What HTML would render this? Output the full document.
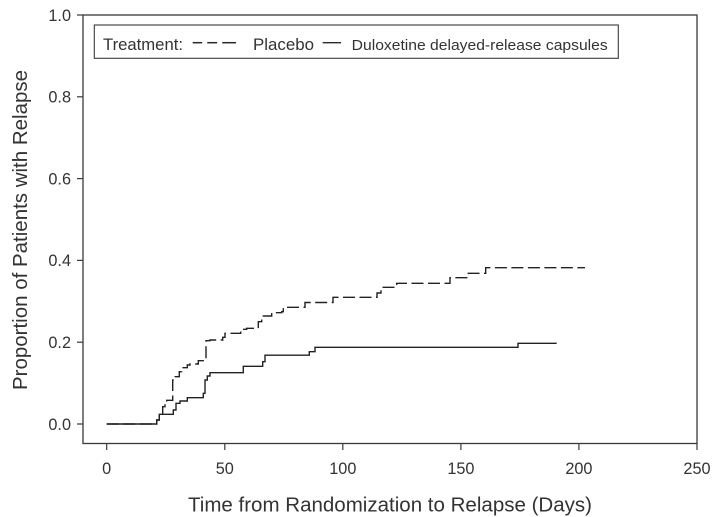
<!DOCTYPE html>
<html>
<head>
<meta charset="utf-8">
<style>
  html, body { margin: 0; padding: 0; background: #ffffff; }
  svg { display: block; }
  text { font-family: "Liberation Sans", Arial, sans-serif; fill: #333333; }
</style>
</head>
<body>
<svg width="715" height="517" viewBox="0 0 715 517" xmlns="http://www.w3.org/2000/svg">
  <rect x="0" y="0" width="715" height="517" fill="#ffffff"/>

  <!-- Plot frame -->
  <rect x="83" y="15" width="614" height="428.5" fill="none" stroke="#3a3a3a" stroke-width="1.3"/>

  <!-- Y ticks -->
  <g stroke="#3a3a3a" stroke-width="1.2">
    <line x1="77" y1="15" x2="83" y2="15"/>
    <line x1="77" y1="96.8" x2="83" y2="96.8"/>
    <line x1="77" y1="178.6" x2="83" y2="178.6"/>
    <line x1="77" y1="260.4" x2="83" y2="260.4"/>
    <line x1="77" y1="342.2" x2="83" y2="342.2"/>
    <line x1="77" y1="424" x2="83" y2="424"/>
  </g>
  <g font-size="16.3" text-anchor="end">
    <text x="71" y="20.8">1.0</text>
    <text x="71" y="102.6">0.8</text>
    <text x="71" y="184.4">0.6</text>
    <text x="71" y="266.2">0.4</text>
    <text x="71" y="348">0.2</text>
    <text x="71" y="429.8">0.0</text>
  </g>

  <!-- X ticks -->
  <g stroke="#3a3a3a" stroke-width="1.2">
    <line x1="106.7" y1="443.5" x2="106.7" y2="450"/>
    <line x1="224.8" y1="443.5" x2="224.8" y2="450"/>
    <line x1="342.8" y1="443.5" x2="342.8" y2="450"/>
    <line x1="460.9" y1="443.5" x2="460.9" y2="450"/>
    <line x1="578.9" y1="443.5" x2="578.9" y2="450"/>
    <line x1="697" y1="443.5" x2="697" y2="450"/>
  </g>
  <g font-size="16.3" text-anchor="middle">
    <text x="106.7" y="474">0</text>
    <text x="224.8" y="474">50</text>
    <text x="342.8" y="474">100</text>
    <text x="460.9" y="474">150</text>
    <text x="578.9" y="474">200</text>
    <text x="697" y="474">250</text>
  </g>

  <!-- Axis labels -->
  <text x="188" y="511.5" font-size="20.5" textLength="404" lengthAdjust="spacingAndGlyphs">Time from Randomization to Relapse (Days)</text>
  <text transform="translate(27,390) rotate(-90)" x="0" y="0" font-size="20.5" textLength="320" lengthAdjust="spacingAndGlyphs">Proportion of Patients with Relapse</text>

  <!-- Legend -->
  <rect x="94.3" y="25" width="524" height="33.3" fill="#ffffff" stroke="#3a3a3a" stroke-width="1.1"/>
  <text x="103" y="50" font-size="17" textLength="80" lengthAdjust="spacingAndGlyphs">Treatment:</text>
  <g stroke="#2a2a2a" stroke-width="1.5">
    <line x1="192.7" y1="42.7" x2="202.2" y2="42.7"/>
    <line x1="207.2" y1="42.7" x2="217.2" y2="42.7"/>
    <line x1="222.2" y1="42.7" x2="236" y2="42.7"/>
  </g>
  <text x="253" y="50" font-size="17" textLength="61" lengthAdjust="spacingAndGlyphs">Placebo</text>
  <line x1="322.7" y1="42.7" x2="341" y2="42.7" stroke="#2a2a2a" stroke-width="1.3"/>
  <text x="351.7" y="50" font-size="15" textLength="256" lengthAdjust="spacingAndGlyphs">Duloxetine delayed-release capsules</text>

  <!-- Placebo (dashed) -->
  <path d="M106.7,424 H156.7 V420 H159.3 V414.3 H162.7 V406.7 H165 V402.7 H166.7 V400.3 H172.7 V380 H175 V376.7 H179.3 V371.7 H181.7 V367.7 H187.3 V365 H190 V364 H198.3 V360.7 H206 V340.7 H210 V340 H222.7 V337.3 H225 V333.3 H240.7 V329.3 H246.7 V328.3 H258.3 V321.7 H261.7 V319.3 H263.3 V316 H271.7 V312.7 H281.7 V311.7 H283.3 V307.3 H305 V302.5 H333 V297.3 H377 V293 H381 V287.3 H396.7 V283.3 H450 V277.7 H468.3 V273.3 H485.7 V267.7 H585"
        fill="none" stroke="#222222" stroke-width="1.4" stroke-dasharray="12 4.5"/>

  <!-- Duloxetine (solid) -->
  <path d="M106.7,424 H156.7 V420 H159.3 V414.3 H173.3 V410 H176 V403.3 H180 V401 H187.3 V397.7 H203.3 V393.3 H205 V380 H207.3 V376 H210 V372.7 H243.3 V366.3 H262.7 V361.7 H265 V355.2 H309.3 V351.7 H315 V347.3 H518 V343.3 H556.7"
        fill="none" stroke="#222222" stroke-width="1.4"/>
</svg>
</body>
</html>
